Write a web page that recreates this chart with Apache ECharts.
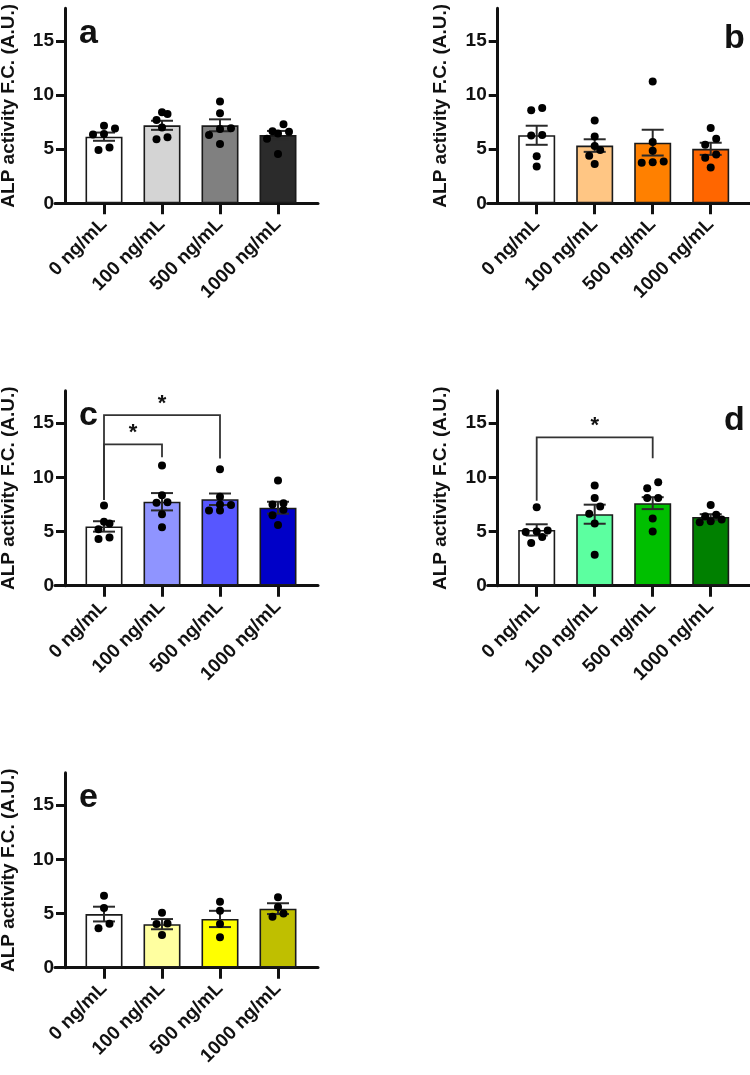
<!DOCTYPE html>
<html><head><meta charset="utf-8">
<script src="https://cdn.jsdelivr.net/npm/echarts@6/dist/echarts.min.js"></script>
<style>html,body{margin:0;padding:0;background:#fff}#c{width:750px;height:1075px}</style>
</head><body><div id="c"></div>
<script>
// ---------- data ----------
const categories = ['0 ng/mL', '100 ng/mL', '500 ng/mL', '1000 ng/mL'];
const yTicks = [0, 5, 10, 15];
const yMax = 18;
const yTitle = 'ALP activity F.C. (A.U.)';
const panelLetters = ['a', 'b', 'c', 'd', 'e'];

const aMeans = [6.15, 7.2, 7.2, 6.3];
const aSem = [0.38, 0.42, 0.55, 0.38];
const aPoints = [[6.9, 7.15, 6.35, 6.4, 4.93, 5.14], [8.25, 8.41, 7.7, 6.99, 5.91, 6.1], [9.39, 8.32, 6.87, 6.93, 6.31, 5.48], [7.3, 6.65, 6.6, 6.45, 5.95, 4.55]];

const bMeans = [6.28, 5.33, 5.6, 5.03];
const bSem = [0.88, 0.58, 1.19, 0.56];
const bPoints = [[8.6, 8.8, 6.25, 6.3, 4.35, 3.4], [7.64, 6.16, 4.93, 5.3, 4.4, 3.63], [11.25, 5.65, 4.85, 3.75, 3.8, 3.85], [6.95, 5.95, 5.4, 4.5, 4.2, 3.3]];

const cMeans = [5.47, 7.75, 7.98, 7.2];
const cSem = [0.48, 0.8, 0.53, 0.55];
const cPoints = [[7.4, 5.9, 5.75, 5.2, 4.3, 4.45], [11.1, 8.35, 7.7, 7.65, 6.6, 5.4], [10.75, 8.2, 7.45, 7.5, 6.95, 6.95], [9.7, 7.6, 7.5, 7.0, 6.5, 5.6]];
const cBrackets = [[0, 1, 13.05, 7.9, 11.85], [0, 2, 15.74, 7.9, 11.75]];

const dMeans = [5.15, 6.6, 7.62, 6.35];
const dSem = [0.52, 0.88, 0.55, 0.25];
const dPoints = [[7.25, 5.0, 5.1, 4.95, 4.5, 3.95], [9.25, 8.1, 7.3, 6.65, 5.75, 2.85], [9.55, 9.0, 8.1, 8.1, 6.2, 5.0], [7.45, 6.55, 6.4, 6.1, 5.95, 5.85]];
const dBrackets = [[0, 2, 13.7, 7.85, 11.77]];

const eMeans = [4.95, 4.02, 4.5, 5.45];
const eSem = [0.68, 0.47, 0.75, 0.5];
const ePoints = [[6.65, 5.5, 4.05, 3.65], [5.07, 4.09, 4.03, 3.01], [6.08, 5.25, 4.03, 2.8], [6.5, 5.6, 5.0, 4.7]];

const sigLabel = '*';

// ---------- styles ----------
const aColors = ['#ffffff', '#d4d4d4', '#808080', '#2b2b2b'];
const bColors = ['#ffffff', '#ffc684', '#ff8000', '#ff6600'];
const cColors = ['#ffffff', '#8f94ff', '#5757ff', '#0000c8'];
const dColors = ['#ffffff', '#5cffa0', '#00bf00', '#008000'];
const eColors = ['#ffffff', '#ffffa0', '#ffff00', '#bfbf00'];

const FONT = '"Liberation Sans", Arimo, Arial, sans-serif';
const INK = '#111111';

const panels = [
  {means: aMeans, sem: aSem, pts: aPoints, colors: aColors, brackets: [], axisX: 65, zeroY: 203.3, letterX: 79, right: false},
  {means: bMeans, sem: bSem, pts: bPoints, colors: bColors, brackets: [], axisX: 497.7, zeroY: 203.3, letterX: 724, right: true},
  {means: cMeans, sem: cSem, pts: cPoints, colors: cColors, brackets: cBrackets, axisX: 65, zeroY: 585.7, letterX: 79, right: false},
  {means: dMeans, sem: dSem, pts: dPoints, colors: dColors, brackets: dBrackets, axisX: 497.7, zeroY: 585.7, letterX: 724, right: true},
  {means: eMeans, sem: eSem, pts: ePoints, colors: eColors, brackets: [], axisX: 65, zeroY: 967.7, letterX: 79, right: false}
];

const PLOT_H = 195, BAND = 58, PAD = 10;
const pxPerUnit = PLOT_H / yMax;

// simple beeswarm: group close points into rows of at most 3, spread rows symmetrically
function swarm(values) {
  const idx = values.map((v, i) => i).sort((p, q) => values[p] - values[q]);
  const off = new Array(values.length).fill(0);
  let i = 0;
  while (i < idx.length) {
    const row = [idx[i]];
    let j = i + 1;
    while (j < idx.length && row.length < 3 && (values[idx[j]] - values[idx[i]]) * pxPerUnit < 7.5) { row.push(idx[j]); j++; }
    row.forEach((k, r) => { off[k] = (r - (row.length - 1) / 2) * 11; });
    i = j;
  }
  return off;
}

const grids = [], xAxes = [], yAxes = [], series = [], graphics = [];

panels.forEach((p, i) => {
  const top = p.zeroY - PLOT_H;
  grids.push({left: p.axisX + PAD, top: top, width: BAND * 4, height: PLOT_H, outerBoundsMode: 'none', containLabel: false});
  grids.push({left: p.axisX - PAD, top: top, width: BAND * 4 + PAD * 2 + 11, height: PLOT_H, outerBoundsMode: 'none', containLabel: false});
  const g = 2 * i;
  xAxes.push({
    gridIndex: g, type: 'category', data: categories, boundaryGap: true,
    axisLine: {show: false},
    axisTick: {show: true, alignWithLabel: true, length: 11, lineStyle: {color: INK, width: 3}},
    axisLabel: {interval: 0, rotate: 45, margin: 18, color: INK, fontFamily: FONT, fontWeight: 'bold', fontSize: 19},
    splitLine: {show: false}
  });
  xAxes.push({
    gridIndex: g + 1, type: 'value', min: 0, max: 1,
    axisLine: {show: true, onZero: false, lineStyle: {color: INK, width: 3}},
    axisTick: {show: false}, axisLabel: {show: false}, splitLine: {show: false}
  });
  yAxes.push({
    gridIndex: g, type: 'value', min: 0, max: yMax, interval: 5, offset: PAD,
    name: yTitle, nameLocation: 'middle', nameRotate: 90, nameGap: 47,
    nameTextStyle: {color: INK, fontFamily: FONT, fontWeight: 'bold', fontSize: 19},
    axisLine: {show: true, onZero: false, lineStyle: {color: INK, width: 3}},
    axisTick: {show: true, length: 9, customValues: yTicks, lineStyle: {color: INK, width: 3}},
    axisLabel: {margin: 11, customValues: yTicks, color: INK, fontFamily: FONT, fontWeight: 'bold', fontSize: 19},
    splitLine: {show: false}
  });
  yAxes.push({gridIndex: g + 1, type: 'value', min: 0, max: 1, show: false});

  series.push({
    type: 'bar', xAxisIndex: g, yAxisIndex: g, barWidth: 37, silent: true,
    data: p.means.map((v, j) => ({value: v, itemStyle: {color: p.colors[j]}})),
    itemStyle: {borderColor: '#1a1a1a', borderWidth: 1.6}, z: 2
  });
  series.push({
    type: 'custom', xAxisIndex: g, yAxisIndex: g, silent: true, z: 3,
    data: p.means.map((m, j) => [j, m, p.sem[j]]),
    renderItem: (params, api) => {
      const x = api.value(0), m = api.value(1), s = api.value(2);
      const t = api.coord([x, m + s]), b = api.coord([x, m - s]);
      const cx = t[0], hw = 11, st = {stroke: '#2a2a2a', lineWidth: 2};
      return {type: 'group', children: [
        {type: 'line', shape: {x1: cx, y1: t[1], x2: cx, y2: b[1]}, style: st},
        {type: 'line', shape: {x1: cx - hw, y1: t[1], x2: cx + hw, y2: t[1]}, style: st},
        {type: 'line', shape: {x1: cx - hw, y1: b[1], x2: cx + hw, y2: b[1]}, style: st}
      ]};
    }
  });
  const dots = [];
  p.pts.forEach((vals, j) => {
    const off = swarm(vals);
    vals.forEach((v, k) => dots.push([j, v, off[k]]));
  });
  series.push({
    type: 'custom', xAxisIndex: g, yAxisIndex: g, silent: true, z: 4,
    data: dots,
    renderItem: (params, api) => {
      const c = api.coord([api.value(0), api.value(1)]);
      return {type: 'circle', shape: {cx: c[0] + api.value(2), cy: c[1], r: 4}, style: {fill: '#000'}};
    }
  });
  if (p.brackets.length) {
    series.push({
      type: 'custom', xAxisIndex: g, yAxisIndex: g, silent: true, z: 5,
      data: p.brackets,
      renderItem: (params, api) => {
        const f = api.value(0), t = api.value(1), y = api.value(2), le = api.value(3), re = api.value(4);
        const p1 = api.coord([f, le]), p2 = api.coord([f, y]), p3 = api.coord([t, y]), p4 = api.coord([t, re]);
        return {type: 'group', children: [
          {type: 'polyline', shape: {points: [p1, p2, p3, p4]}, style: {stroke: '#333', lineWidth: 1.8, fill: null}},
          {type: 'text', x: (p2[0] + p3[0]) / 2, y: p2[1] - 11,
           style: {text: sigLabel, align: 'center', verticalAlign: 'middle', fill: INK, font: 'bold 22px ' + FONT}}
        ]};
      }
    });
  }
  graphics.push({
    type: 'text', x: p.letterX, y: p.zeroY - 170 + (p.right ? 5 : 0),
    style: {text: panelLetters[i], fill: INK, font: 'bold 34px ' + FONT, align: 'left', verticalAlign: 'middle'}
  });
});

const chart = echarts.init(document.getElementById('c'), null, {renderer: 'canvas'});
chart.setOption({
  animation: false,
  backgroundColor: '#ffffff',
  grid: grids, xAxis: xAxes, yAxis: yAxes, series: series, graphic: graphics
});
</script>
</body></html>
